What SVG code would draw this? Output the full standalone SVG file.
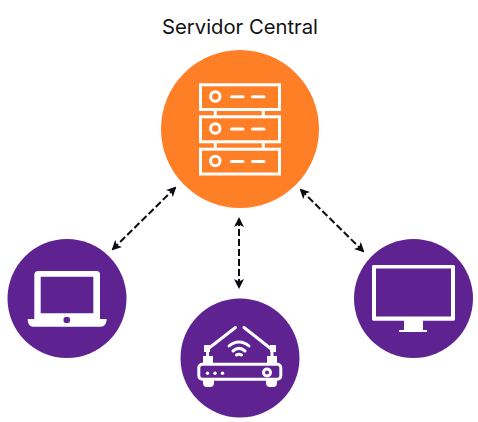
<svg xmlns="http://www.w3.org/2000/svg" width="478" height="422" viewBox="0 0 478 422">
<style>
.o{fill:#ff7f27}.p{fill:#5e2391}
.w{fill:#fff}
.s{fill:none;stroke:#fff;stroke-width:3}
.t{fill:none;stroke:#fff;stroke-width:3;stroke-linecap:round}
.c{fill:none;stroke:#0b0b14;stroke-width:2;stroke-dasharray:7 3;marker-start:url(#h);marker-end:url(#h)}
text{font-family:"Inter","Noto Sans",sans-serif;font-size:20px;fill:#111}
</style>
<defs>
<marker id="h" viewBox="0 0 10 10" refX="8" refY="5" markerWidth="5" markerHeight="5" orient="auto-start-reverse"><path d="M0 0L10 5L0 10L2.5 5Z" fill="#0b0b14"/></marker>
</defs>
<rect width="478" height="422" fill="#fff"/>
<g id="connectors">
<path class="c" d="M113 249L175 188"/>
<path class="c" d="M301 190L363 251"/>
<path class="c" d="M239 219V287"/>
</g>
<g id="server">
<text x="240" y="34" text-anchor="middle" textLength="156" lengthAdjust="spacingAndGlyphs">Servidor Central</text>
<circle class="o" cx="240" cy="129" r="79"/>
<g class="s">
<rect x="200.500" y="84.800" width="79" height="24.700"/>
<rect x="200.500" y="116.800" width="79" height="25"/>
<rect x="200.500" y="149.200" width="79" height="24.800"/>
<circle cx="215.300" cy="96.500" r="4.700"/>
<circle cx="215.300" cy="128.500" r="4.700"/>
<circle cx="215.300" cy="161" r="4.700"/>
<path d="M215.300 109V117M263.300 109V117M215.300 141V149M263.300 141V149"/>
</g>
<g class="t">
<path d="M231.500 96.800H243M252.500 96.800H264M231.500 129H243M252.500 129H264M231.500 161.500H243M252.500 161.500H264"/>
</g>
</g>
<g id="laptop">
<circle class="p" cx="67" cy="298.500" r="59.500"/>
<path class="w" fill-rule="evenodd" d="M38 271H96.500A3.500 3.500 0 0 1 100 274.500V319H106.700C106.700 324 104 326.700 101 326.700H33C30 326.700 27.700 324 27.700 319H34.300V274.500A3.500 3.500 0 0 1 38 271ZM40.700 276.700V313.300H93.300V276.700Z"/>
<circle class="p" cx="66.800" cy="320" r="3.300"/>
</g>
<g id="router">
<circle class="p" cx="240" cy="358" r="59.500"/>
<rect class="s" x="198.800" y="364.200" width="82" height="15" rx="3.500"/>
<g class="w">
<circle cx="207.500" cy="373.300" r="1.700"/><circle cx="215" cy="373.300" r="1.700"/><circle cx="222.500" cy="373.300" r="1.700"/>
<rect x="204" y="345" width="6" height="7"/><rect x="270" y="345" width="6" height="7"/>
<rect x="203" y="356" width="10" height="7"/><rect x="267" y="356" width="10" height="7"/>
<path d="M203 380H214V383A4 4 0 0 1 210 387H207A4 4 0 0 1 203 383ZM266 380H277V383A4 4 0 0 1 273 387H270A4 4 0 0 1 266 383Z"/>
</g>
<circle class="s" cx="267" cy="372.500" r="3.500"/>
<g class="t">
<path d="M206.500 350L235.500 327.500M272.500 350L244 327.500"/>
<path d="M207.500 351V358M272 351V358"/>
<path d="M229 346C235 340.500 243 340.500 249 346M233 351C237 347.500 241 347.500 245 351M236.500 355C238 354 240 354 241.500 355"/>
</g>
</g>
<g id="monitor">
<circle class="p" cx="413.500" cy="298.500" r="59.500"/>
<path class="w" fill-rule="evenodd" d="M373.500 265H453.500A1.500 1.500 0 0 1 455 266.500V319A1.500 1.500 0 0 1 453.500 320.700H423V330H427V332H399V330H404V320.700H373.500A1.500 1.500 0 0 1 372 319V266.500A1.500 1.500 0 0 1 373.500 265ZM376 268.500V316.500H451V268.500Z"/>
</g>
</svg>
